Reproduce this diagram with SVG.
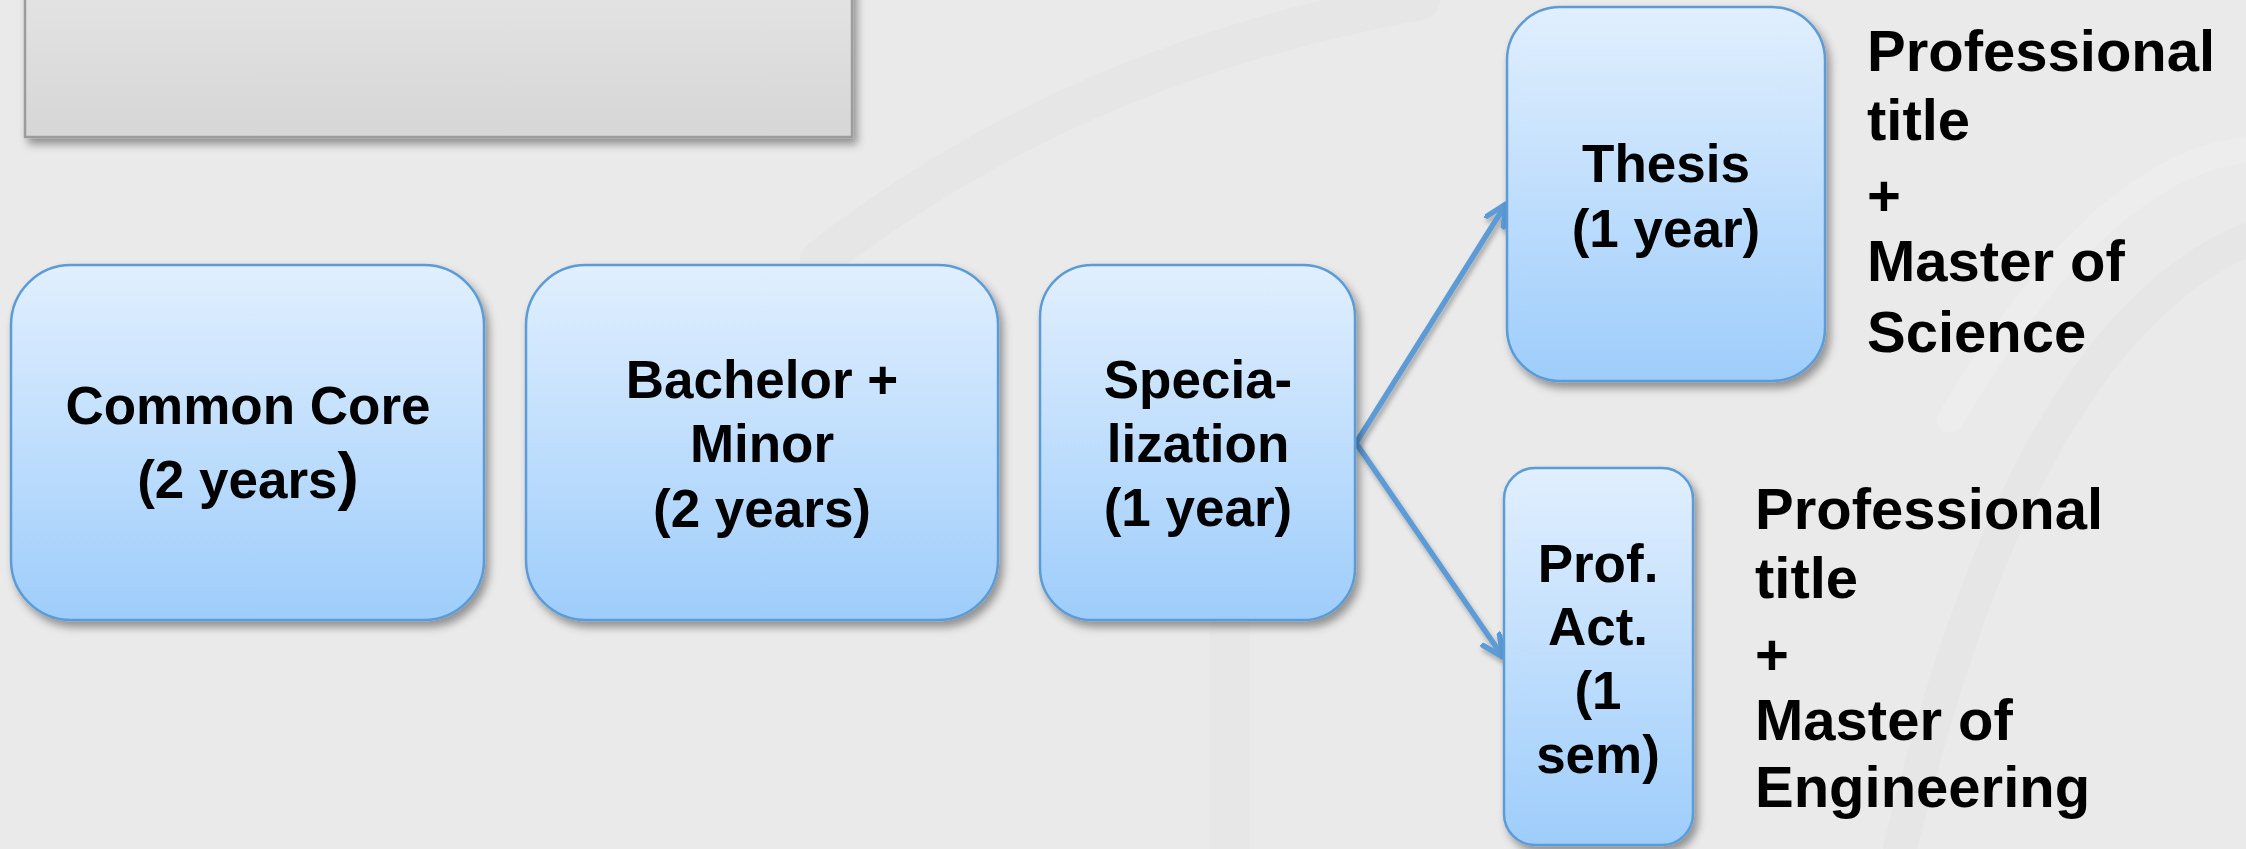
<svg xmlns="http://www.w3.org/2000/svg" width="2246" height="849" viewBox="0 0 2246 849">
  <defs>
    <linearGradient id="boxGrad" x1="0" y1="0" x2="0" y2="1">
      <stop offset="0" stop-color="#e1effe"/>
      <stop offset="1" stop-color="#9ecdfb"/>
    </linearGradient>
    <linearGradient id="grayGrad" x1="0" y1="0" x2="0" y2="1">
      <stop offset="0" stop-color="#e4e4e4"/>
      <stop offset="1" stop-color="#d6d6d6"/>
    </linearGradient>
    <filter id="shadow" x="-10%" y="-10%" width="125%" height="125%">
      <feDropShadow dx="4" dy="6" stdDeviation="4" flood-color="#000" flood-opacity="0.38"/>
    </filter>
    <filter id="lineShadow" x="-10%" y="-10%" width="125%" height="125%">
      <feDropShadow dx="2" dy="4" stdDeviation="2.5" flood-color="#000" flood-opacity="0.3"/>
    </filter>
    <marker id="arrow" markerUnits="userSpaceOnUse" markerWidth="30" markerHeight="30" refX="23" refY="12" orient="auto">
      <path d="M2,2 L23,12 L2,22" fill="none" stroke="#5b9bd5" stroke-width="5.5" stroke-linecap="round" stroke-linejoin="round"/>
    </marker>
    <style>
      .box { fill: url(#boxGrad); stroke: #5b9bd5; stroke-width: 2.5; filter: url(#shadow); }
      .lbl { font-family: "Liberation Sans", Arial, sans-serif; font-weight: bold; font-size: 53px; fill: #000; text-anchor: middle; }
      .side { font-family: "Liberation Sans", Arial, sans-serif; font-weight: bold; font-size: 58px; fill: #000; }
      .conn { fill: none; stroke: #5b9bd5; stroke-width: 5.5; marker-end: url(#arrow); filter: url(#lineShadow); }
    </style>
  </defs>

  <!-- background -->
  <rect x="0" y="0" width="2246" height="849" fill="#eaeaea"/>
  <g id="watermark" fill="none" stroke-linecap="round">
    <path d="M820,260 C1000,120 1200,40 1420,0" stroke="#e6e6e6" stroke-width="40"/>
    <path d="M1230,420 L1230,849" stroke="#e7e7e7" stroke-width="40"/>
    <path d="M1900,849 C1960,600 2060,320 2246,240" stroke="#e6e6e6" stroke-width="34"/>
    <path d="M1950,420 C2050,250 2150,160 2246,150" stroke="#ededed" stroke-width="26"/>
  </g>

  <!-- top gray panel -->
  <g id="panel">
    <rect x="25" y="-20" width="827" height="157" fill="url(#grayGrad)" stroke="#9c9c9c" stroke-width="2.5" filter="url(#shadow)"/>
  </g>

  <!-- connectors -->
  <g id="connectors">
    <line class="conn" x1="484" y1="443" x2="524" y2="443"/>
    <line class="conn" x1="998" y1="443" x2="1038" y2="443"/>
    <line class="conn" x1="1356" y1="443" x2="1506" y2="204"/>
    <line class="conn" x1="1356" y1="443" x2="1503" y2="657"/>
  </g>

  <g id="common-core">
    <rect class="box" x="11" y="265" width="473" height="355" rx="60" ry="60"/>
    <text class="lbl" x="248" y="424">Common Core</text>
    <text class="lbl" x="248" y="498">(2 years<tspan font-size="64">)</tspan></text>
  </g>

  <g id="bachelor">
    <rect class="box" x="526" y="265" width="472" height="355" rx="60" ry="60"/>
    <text class="lbl" x="762" y="398">Bachelor +</text>
    <text class="lbl" x="762" y="462">Minor</text>
    <text class="lbl" x="762" y="527">(2 years)</text>
  </g>

  <g id="specialization">
    <rect class="box" x="1040" y="265" width="315" height="355" rx="52" ry="52"/>
    <text class="lbl" x="1198" y="398">Specia-</text>
    <text class="lbl" x="1198" y="462">lization</text>
    <text class="lbl" x="1198" y="526">(1 year)</text>
  </g>

  <g id="thesis">
    <rect class="box" x="1507" y="7" width="318" height="374" rx="53" ry="53"/>
    <text class="lbl" x="1666" y="182">Thesis</text>
    <text class="lbl" x="1666" y="247">(1 year)</text>
  </g>

  <g id="prof-act">
    <rect class="box" x="1504" y="468" width="189" height="377" rx="31" ry="31"/>
    <text class="lbl" x="1598" y="582">Prof.</text>
    <text class="lbl" x="1598" y="645">Act.</text>
    <text class="lbl" x="1598" y="709">(1</text>
    <text class="lbl" x="1598" y="773">sem)</text>
  </g>

  <g id="label-thesis">
    <text class="side" x="1867" y="71">Professional</text>
    <text class="side" x="1867" y="140">title</text>
    <text class="side" x="1867" y="216">+</text>
    <text class="side" x="1867" y="281">Master of</text>
    <text class="side" x="1867" y="352">Science</text>
  </g>

  <g id="label-prof">
    <text class="side" x="1755" y="529">Professional</text>
    <text class="side" x="1755" y="598">title</text>
    <text class="side" x="1755" y="675">+</text>
    <text class="side" x="1755" y="740">Master of</text>
    <text class="side" x="1755" y="807">Engineering</text>
  </g>
</svg>
